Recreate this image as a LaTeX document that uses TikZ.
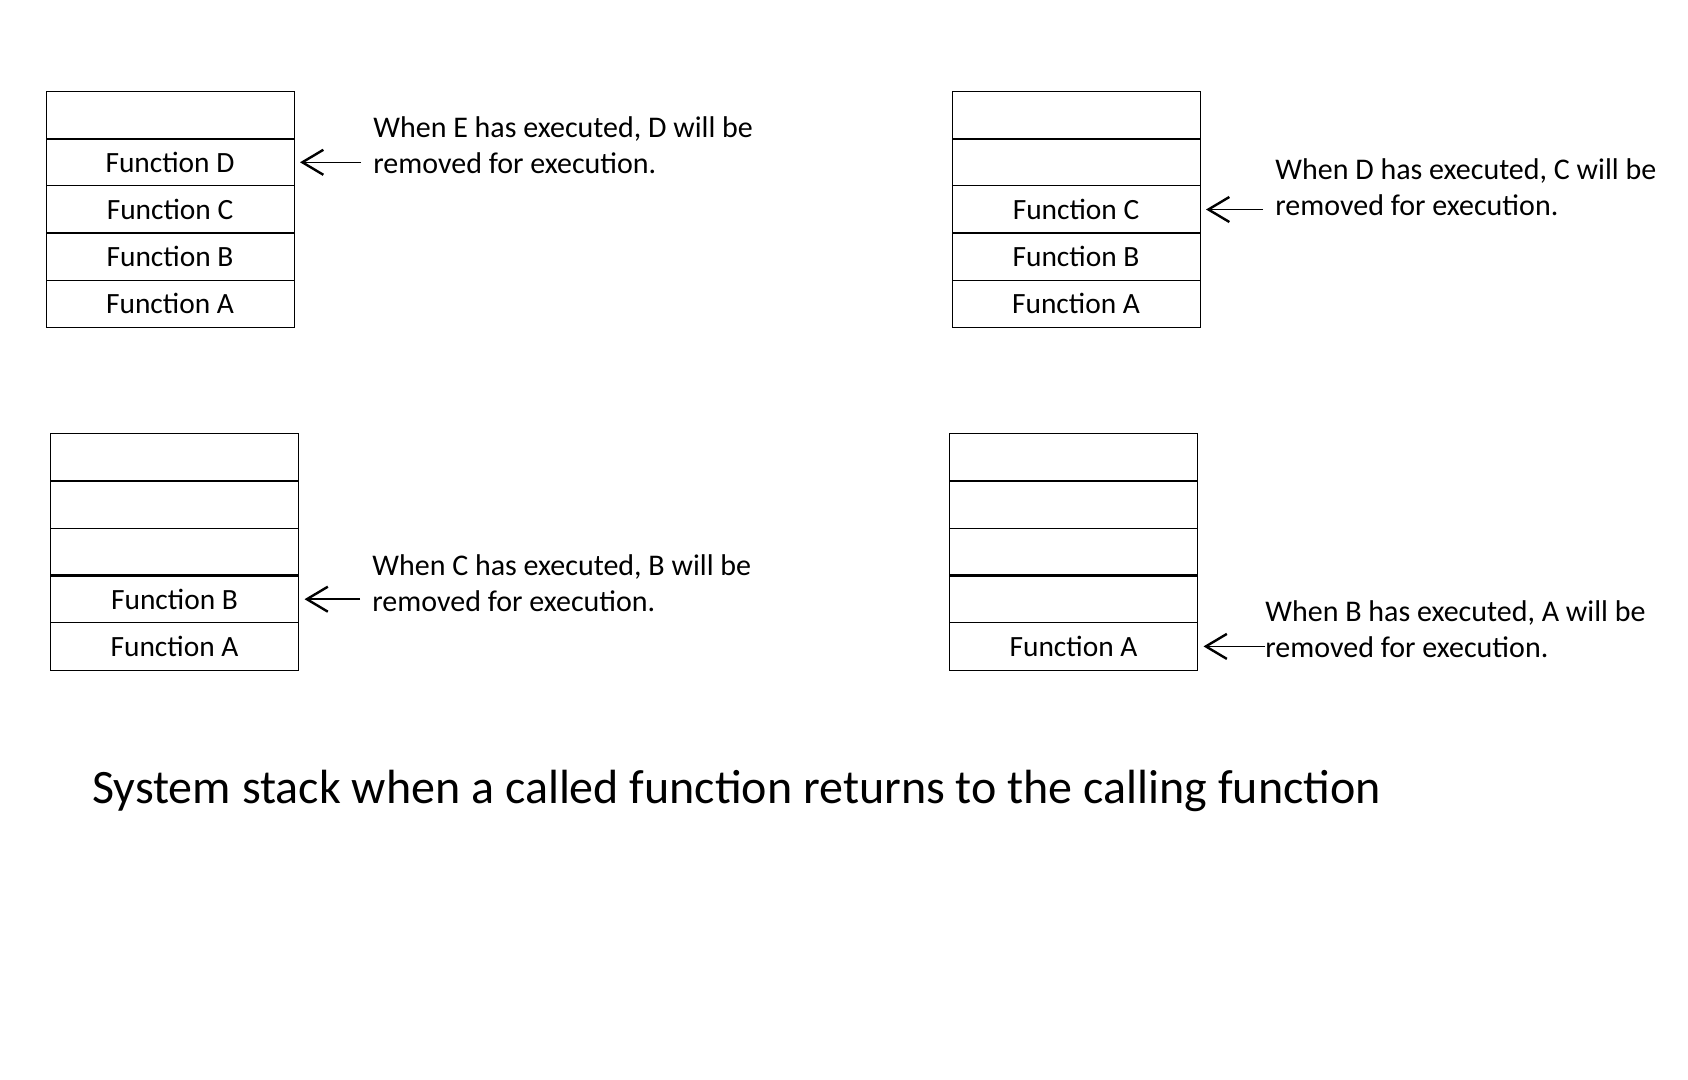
\documentclass[tikz,border=0pt]{standalone}
\usepackage{fontspec}
\setmainfont{Carlito}
\usetikzlibrary{arrows.meta,positioning}

\begin{document}
\begin{tikzpicture}[
  x=0.5pt, y=-0.5pt,
  node distance=0pt,
  slot/.style={draw, line width=0.5pt, inner sep=0pt, outer sep=0pt,
    minimum width=124pt, minimum height=23.6pt, font=\fontsize{14.7}{17.8}\selectfont},
  sep/.style={line width=1.1pt},
  note/.style={align=left, anchor=west, inner sep=0pt, font=\fontsize{15}{17.8}\selectfont},
  arrow/.style={-{Straight Barb[length=10.5pt, width=12.5pt, line width=1.2pt]}, line width=0.7pt}
]
\useasboundingbox (0,0) rectangle (1688,1080);
% stack after E returns
\node[slot, anchor=north west] (s1top) at (46,91.5) {};
\node[slot, below=of s1top] (s1d) {Function D};
\node[slot, below=of s1d] (s1c) {Function C};
\node[slot, below=of s1c] (s1b) {Function B};
\node[slot, below=of s1b] (s1a) {Function A};
\draw[sep] (s1top.south west) -- (s1top.south east);
\draw[sep] (s1c.south west) -- (s1c.south east);
\node[note] (n1) at (373,145) {When E has executed, D will be\\removed for execution.};
\draw[arrow, shorten <=6pt, shorten >=3pt] (n1.west |- s1d) -- (s1d.east);
% stack after D returns
\node[slot, anchor=north west] (s2top) at (952,91.5) {};
\node[slot, below=of s2top] (s2e) {};
\node[slot, below=of s2e] (s2c) {Function C};
\node[slot, below=of s2c] (s2b) {Function B};
\node[slot, below=of s2b] (s2a) {Function A};
\draw[sep] (s2top.south west) -- (s2top.south east);
\draw[sep] (s2c.south west) -- (s2c.south east);
\node[note] (n2) at (1275,187) {When D has executed, C will be\\removed for execution.};
\draw[arrow, shorten <=6pt, shorten >=3pt] (n2.west |- s2c) -- (s2c.east);
% stack after C returns
\node[slot, anchor=north west] (s3top) at (50.5,434) {};
\node[slot, below=of s3top] (s3e) {};
\node[slot, below=of s3e] (s3d) {};
\node[slot, below=of s3d] (s3b) {Function B};
\node[slot, below=of s3b] (s3a) {Function A};
\draw[sep] (s3top.south west) -- (s3top.south east);
\draw[sep] (s3d.south west) -- (s3d.south east);
\node[note] (n3) at (372,583) {When C has executed, B will be\\removed for execution.};
\draw[arrow, shorten <=6pt, shorten >=3pt] (n3.west |- s3b) -- (s3b.east);
% stack after B returns
\node[slot, anchor=north west] (s4top) at (949.5,434) {};
\node[slot, below=of s4top] (s4e) {};
\node[slot, below=of s4e] (s4d) {};
\node[slot, below=of s4d] (s4c) {};
\node[slot, below=of s4c] (s4a) {Function A};
\draw[sep] (s4top.south west) -- (s4top.south east);
\draw[sep] (s4d.south west) -- (s4d.south east);
\node[note] (n4) at (1265,629) {When B has executed, A will be\\removed for execution.};
\draw[arrow, shorten >=3pt] (n4.west |- s4a) -- (s4a.east);
% caption
\node[note, font=\fontsize{24}{28}\selectfont] (title) at (92,791) {System stack when a called function returns to the calling function};
\end{tikzpicture}
\end{document}
